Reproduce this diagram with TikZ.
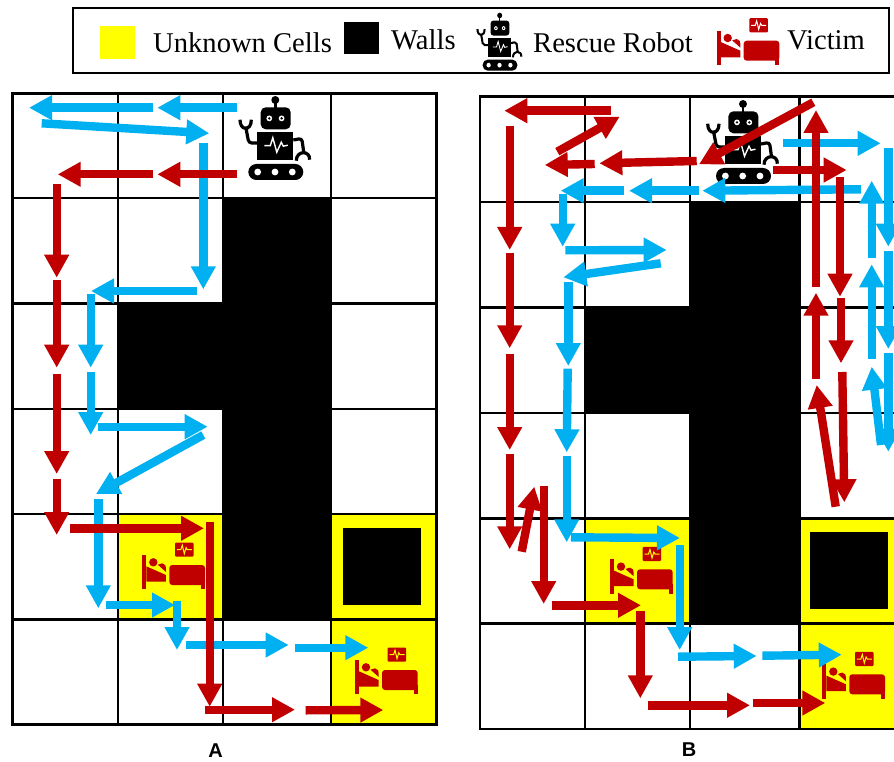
\documentclass[tikz,border=0pt]{standalone}
\usepackage{fontspec}
\setmainfont{Liberation Serif}
\setsansfont{Liberation Sans}
\usetikzlibrary{arrows.meta}
\definecolor{cblue}{HTML}{00B0F0}
\definecolor{cred}{HTML}{C00000}
\definecolor{cyel}{HTML}{FFFF00}
\tikzset{
  bluearrow/.style={draw=cblue,line width=8.4pt,-{Triangle[length=23pt,width=23.5pt,fill=cblue]}},
  redarrow/.style={draw=cred,line width=8.4pt,-{Triangle[length=23pt,width=23.5pt,fill=cred]}},
  inner/.style={draw=black,line width=2.4pt},
  outer/.style={draw=black,line width=2.6pt},
  legendtext/.style={font=\fontsize{28.6}{30}\selectfont,anchor=base west,inner sep=0pt},
  panellabel/.style={font=\sffamily\bfseries\fontsize{20}{22}\selectfont,inner sep=0pt},
}
\newcommand{\robotat}[4]{%
\begin{scope}[shift={(#1,#2)},xscale=#3,yscale=#4]
  \fill (0,-46.7) circle (4);
  \fill (-1.2,-46) rectangle (1.2,-38);
  \fill[rounded corners=5pt*#3] (-14.6,-39.4) rectangle (15.4,-17.4);
  \fill[white] (-6,-28.3) circle (2.9) (6.3,-28.3) circle (2.9);
  \fill (-6,-28.3) circle (1.3) (6.3,-28.3) circle (1.3);
  \fill (-18,-14.4) rectangle (18,13.3);
  \draw[white,line width=1.4pt*#3] (-11,-1)--(-5,-1)--(-2.5,-9)--(1.5,5.5)--(6,-4.5)--(8,-0.5)--(12.5,-1.5);
  \draw[line width=3.2pt*#3,rounded corners=3pt*#3] (-18,-3.7)--(-26.5,-3.7)--(-29.6,-20);
  \draw[line width=3.2pt*#3] (-35.3,-27) .. controls (-35.5,-15.5) and (-23.7,-15.5) .. (-24,-27);
  \draw[line width=3.2pt*#3,rounded corners=3pt*#3] (18,-6.7)--(26.5,-8.3)--(28.5,6);
  \draw[line width=3.2pt*#3] (21,14) .. controls (21,3.5) and (35,3.5) .. (34.3,13);
  \fill[rounded corners=8pt*#3] (-27,17.3) rectangle (28,33.3);
  \fill[white] (-17.6,25.3) circle (3.4) (-0.3,25.3) circle (3.4) (17,25.3) circle (3.4);
\end{scope}}
\newcommand{\victimat}[3]{%
\begin{scope}[shift={(#1,#2)}]
  \fill[cred,rounded corners=1pt] (1.7,-23.2) rectangle (20.2,-9);
  \draw[#3,line width=1pt] (3.5,-16)--(7.5,-16)--(9,-20.5)--(11,-12)--(12.8,-18)--(14,-16)--(18.5,-16);
  \fill[cred] (-31,-10.7) rectangle (-27,23.6);
  \fill[cred] (-20,-3.4) circle (4.2);
  \fill[cred] (-27,0.6)--(-7.4,9.3)--(-7.4,16)--(-27,16)--cycle;
  \fill[cred] (-15.5,-1)--(-11,-2.4)--(-8,-0.5)--(-7.4,2)--(-7.4,6.2)--cycle;
  \fill[cred,rounded corners=3pt] (-4,-0.7) rectangle (31.7,19.3);
  \fill[cred] (27.7,14) rectangle (31.7,23.6);
\end{scope}}
\begin{document}
\begin{tikzpicture}[x=1pt,y=-1pt]
\useasboundingbox (0,0) rectangle (894,762);
\clip (0,0) rectangle (894,762);
\fill[white] (0,0) rectangle (894,762);
% legend
\draw[outer] (73,8) rectangle (889,73);
\fill[cyel] (100,26) rectangle (135,59);
\node[legendtext] (lgU) at (153,53) {Unknown Cells};
\fill[black] (344,22) rectangle (379,54);
\node[legendtext] (lgW) at (391,50) {Walls};
\robotat{499.7}{47.7}{0.63}{0.69}
\node[legendtext] (lgR) at (533,53) {Rescue Robot};
\victimat{747.7}{41.4}{white}
\node[legendtext] (lgV) at (787,50) {Victim};
% panel A
\fill[cyel] (118,514) rectangle (223,619);
\fill[cyel] (331,514) rectangle (437,619);
\fill[cyel] (331,619) rectangle (437,725);
\foreach \x in {118,223,331} \draw[inner] (\x,93.3)--(\x,724.7);
\foreach \y in {198.3,303.3,409,514,619.3} \draw[inner] (12.3,\y)--(436.7,\y);
\draw[outer] (12.3,93.3) rectangle (436.7,724.7);
\fill[black] (223,198.3) rectangle (331,619);
\fill[black] (118,303.3) rectangle (223,409);
\fill[black] (342.7,528.3) rectangle (420.7,605);
\robotat{275.3}{146.7}{1}{1}
\victimat{173.3}{565.7}{cyel}
\victimat{386}{670.7}{cyel}
\foreach \a/\b in {
 {(236.7,107.7)}/{(157.3,107.7)},{(152.7,107.7)}/{(29,107.7)},{(41.7,123.3)}/{(209.3,133.3)},
 {(203.3,143.3)}/{(203.3,289.3)},{(197.3,291)}/{(91,291)},{(90.7,294.3)}/{(90.7,367.7)},
 {(90.7,371.7)}/{(90.7,435)},{(98.3,426.7)}/{(207.7,426.7)},{(203.3,435)}/{(96,494)},
 {(98.3,499.3)}/{(98.3,608.3)},{(105.7,605)}/{(175,605)},{(177,600.7)}/{(177,650)},
 {(186,645)}/{(288.7,645)},{(294.7,647.7)}/{(368.3,647.7)}}
  \draw[bluearrow] \a -- \b;
\foreach \a/\b in {
 {(236.7,174.3)}/{(157.3,174.3)},{(153.3,174.3)}/{(57.7,174.3)},{(56.7,184.3)}/{(56.7,277.7)},
 {(56.7,280.3)}/{(56.7,367.7)},{(56.7,373.7)}/{(56.7,474)},{(56.7,479)}/{(56.7,535)},
 {(70.3,528.3)}/{(204,528.3)},{(209.7,521.7)}/{(209.7,706.7)},{(205,709.7)}/{(295,709.7)},
 {(305.7,710.3)}/{(383.3,710)}}
  \draw[redarrow] \a -- \b;
\node[panellabel] (labA) at (215.7,751) {A};
% panel B
\fill[cyel] (585,518.3) rectangle (690,623.3);
\fill[cyel] (799.3,518.3) rectangle (905,623.3);
\fill[cyel] (799.3,623.3) rectangle (905,729);
\foreach \x in {585,690,799.3} \draw[inner] (\x,96.7)--(\x,729);
\foreach \y in {202.3,307.3,412.7,518.3,623.3} \draw[inner] (480,\y)--(905,\y);
\draw[outer] (480,96.7) rectangle (905,729);
\fill[black] (690,202.3) rectangle (799.3,623.3);
\fill[black] (585,307.3) rectangle (690,412.7);
\fill[black] (810,532.3) rectangle (887.7,609);
\robotat{743}{150.7}{1}{1}
\victimat{641}{570}{cyel}
\victimat{853.3}{675}{cyel}
\foreach \a/\b in {
 {(861,189.3)}/{(702.3,190.7)},{(698.7,190.7)}/{(629,190.7)},{(624,190.7)}/{(560.7,190.7)},
 {(562.7,194)}/{(562.7,246.7)},{(565.3,250.3)}/{(666.7,250)},{(660.7,263.3)}/{(563.3,277.3)},
 {(568.3,282)}/{(568.3,366)},{(567.7,368.7)}/{(566.7,452.3)},{(566.7,455.7)}/{(566.7,542.3)},
 {(571,537.3)}/{(680,538)},{(679.7,545.3)}/{(679.7,650)},{(678,656.7)}/{(756.7,656)},
 {(762.3,655.7)}/{(841.7,654.7)},{(782.7,143.3)}/{(880.7,143.3)},{(888.3,147.7)}/{(888.3,246.7)},
 {(888.3,250.7)}/{(888.3,349)},{(888.3,353)}/{(888.3,451.7)},{(881,445)}/{(871.7,366.7)},
 {(871.7,359)}/{(871.7,264.3)},{(871.7,257.7)}/{(871.7,180.7)}}
  \draw[bluearrow] \a -- \b;
\foreach \a/\b in {
 {(610.7,110.7)}/{(504.3,110.7)},{(509.7,125.7)}/{(509.7,250)},{(509.7,252.7)}/{(509.7,348.3)},
 {(509.7,354.3)}/{(509.7,450)},{(509.7,454)}/{(509.7,549.3)},{(521.7,551.7)}/{(534.3,486.7)},
 {(543.7,485.7)}/{(543.7,604)},{(552.3,605.3)}/{(641,605.3)},{(640.3,611)}/{(640.3,698.3)},
 {(647.7,705.3)}/{(750,705.3)},{(753.3,703)}/{(825.3,703)},{(813.3,102.3)}/{(699,164.3)},
 {(696.7,161)}/{(599.3,163.3)},{(594.7,164)}/{(544.7,165)},{(557.3,151.7)}/{(619.7,116.7)},
 {(773.3,170)}/{(846.7,170)},{(840,176.7)}/{(840,296.7)},{(841,298)}/{(841,363.3)},
 {(842.3,372)}/{(844.3,502.3)},{(835.7,506.7)}/{(816.7,385)},{(816,378.7)}/{(816,292.7)},
 {(816,286.7)}/{(816,110)}}
  \draw[redarrow] \a -- \b;
\node[panellabel] (labB) at (689,750) {B};
\end{tikzpicture}
\end{document}
